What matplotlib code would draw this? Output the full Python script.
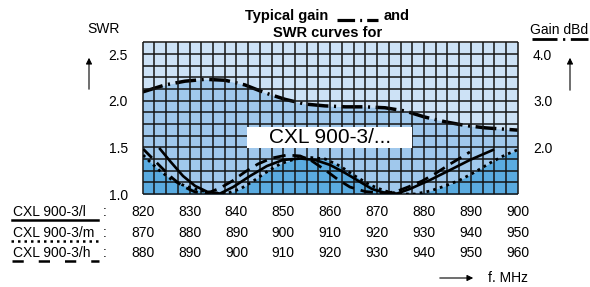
import matplotlib
matplotlib.use("Agg")
import numpy as np
import matplotlib.pyplot as plt
from matplotlib.transforms import blended_transform_factory
from matplotlib.lines import Line2D
from matplotlib.patches import FancyArrowPatch, Rectangle

plt.rcParams['font.family'] = ['Liberation Sans', 'DejaVu Sans']

# frequency axis (drawn on the CXL 900-3/l scale, MHz)
freq_ticks = [820, 830, 840, 850, 860, 870, 880, 890, 900]
labels_l = [820, 830, 840, 850, 860, 870, 880, 890, 900]
labels_m = [870, 880, 890, 900, 910, 920, 930, 940, 950]
labels_h = [880, 890, 900, 910, 920, 930, 940, 950, 960]
row_names = ["CXL 900-3/l", "CXL 900-3/m", "CXL 900-3/h"]

swr_ticks = [1.0, 1.5, 2.0, 2.5]
gain_ticks = [2.0, 3.0, 4.0]

# SWR, CXL 900-3/l (solid)
l_freq = [823.7, 826.0, 828.6, 831.2, 833.9, 836.5, 839.3, 842.9, 846.5, 849.9,
          853.6, 856.8, 860.0, 863.2, 866.4, 868.9, 871.7, 874.3, 877.0, 881.3,
          885.6, 889.8, 894.7]
l_swr = [1.483, 1.343, 1.193, 1.086, 1.021, 1.005, 1.075, 1.193, 1.300, 1.365,
         1.381, 1.365, 1.311, 1.225, 1.129, 1.054, 1.011, 1.005, 1.054, 1.150,
         1.258, 1.365, 1.472]

# SWR, CXL 900-3/m (dotted)
m_freq = [820.1, 821.6, 823.7, 826.3, 829.0, 832.2, 835.4, 838.2, 840.8, 843.3,
          846.1, 849.3, 852.5, 855.7, 858.9, 862.1, 865.3, 868.5, 871.7, 874.9,
          878.1, 881.3, 884.5, 887.7, 890.9, 894.1, 897.3, 899.9]
m_swr = [1.418, 1.343, 1.247, 1.150, 1.086, 1.038, 1.011, 1.011, 1.054, 1.129,
         1.225, 1.322, 1.376, 1.392, 1.376, 1.300, 1.193, 1.097, 1.032, 1.000,
         1.000, 1.032, 1.086, 1.150, 1.236, 1.333, 1.418, 1.472]

# SWR, CXL 900-3/h (dashed)
h_freq = [820.1, 822.0, 824.1, 826.3, 828.4, 831.2, 833.9, 836.5, 839.1, 841.8,
          844.6, 847.6, 850.8, 853.6, 856.1, 858.9, 861.5, 864.2, 867.4, 870.6,
          873.8, 876.6, 879.6, 882.6, 885.6, 888.1, 889.8]
h_swr = [1.483, 1.386, 1.279, 1.172, 1.086, 1.021, 1.011, 1.064, 1.139, 1.236,
         1.322, 1.386, 1.418, 1.408, 1.354, 1.258, 1.161, 1.075, 1.027, 1.011,
         1.021, 1.075, 1.139, 1.225, 1.322, 1.397, 1.451]

# gain, dBd (dash-dot)
gain_freq = [820.0, 824.8, 829.0, 833.3, 837.6, 841.8, 846.1, 850.4, 854.6, 858.9,
             863.2, 867.4, 871.7, 876.0, 880.2, 884.5, 888.8, 893.0, 900.0]
gain_dbd = [3.19, 3.34, 3.42, 3.46, 3.44, 3.34, 3.17, 3.03, 2.93, 2.89,
            2.87, 2.87, 2.85, 2.78, 2.65, 2.55, 2.47, 2.42, 2.37]

light = '#cde2f6'
mid = '#a0c8ec'
dark = '#5aabe0'
gridc = '#141414'

W, H = 590, 287
def fx(x):
    return x / W
def fy(y):
    return 1 - y / H

fig = plt.figure(figsize=(5.9, 2.87), dpi=100)
ax = fig.add_axes([fx(142.7), fy(194), (517.7 - 142.7) / W, (194 - 42.5) / H])
ax2 = ax.twinx()
ax.set_zorder(ax2.get_zorder() + 1)
ax.patch.set_visible(False)
ax2.patch.set_visible(True)
ax2.set_facecolor(light)

ax.set_xlim(820, 900)
ax.set_ylim(1.0, 2.625)
ax2.set_ylim(1.0, 4.25)

# gain curve and the fill under it (behind)
ax2.fill_between(gain_freq, gain_dbd, 1.0, color=mid, lw=0)
ax2.plot(gain_freq, gain_dbd, color='k', lw=2.5,
         linestyle=(0, (6, 1.6, 0.6, 1.6)))

# dark fill below the dotted SWR curve
ax.fill_between(m_freq, m_swr, 1.0, color=dark, lw=0, zorder=1)

# grid
ax.vlines(np.arange(820, 900.01, 2.5), 1.0, 2.625, color=gridc, lw=1.1,
          zorder=2, clip_on=False)
ax.hlines(np.arange(1.0, 2.626, 0.125), 820, 900, color=gridc, lw=1.1,
          zorder=2, clip_on=False)

# white label box
ax.add_patch(Rectangle((fx(247), fy(148)), (412 - 247) / W, (148 - 127) / H,
                       transform=fig.transFigure, facecolor='white',
                       edgecolor='none', zorder=3))
fig.text(fx(330), fy(137.5), "CXL 900-3/...", fontsize=15, ha='center',
         va='center', zorder=4)

# SWR curves
ax.plot(l_freq, l_swr, color='k', lw=1.9, zorder=5)
ax.plot(m_freq, m_swr, color='k', lw=2.0, linestyle=(0, (1, 1.5)), zorder=5)
ax.plot(h_freq, h_swr, color='k', lw=2.0, linestyle=(0, (4.5, 2.5)), zorder=5)

for a in (ax, ax2):
    for s in a.spines.values():
        s.set_visible(False)
ax.set_xticks([])
ax.set_yticks(swr_ticks, [f"{v:.1f}" for v in swr_ticks])
ax.tick_params(axis='y', length=0, pad=10.5, labelsize=10)
ax2.set_yticks(gain_ticks, [f"{v:.1f}" for v in gain_ticks])
ax2.tick_params(axis='y', length=0, pad=11, labelsize=10)

# frequency rows
tr = blended_transform_factory(ax.transData, fig.transFigure)
rows_y = [211.7, 233.3, 253.3]
for row_y, name, labs in zip(rows_y, row_names, [labels_l, labels_m, labels_h]):
    fig.text(fx(13), fy(row_y), name, fontsize=10, ha='left', va='center')
    fig.text(fx(105), fy(row_y), ":", fontsize=10, ha='center', va='center')
    for f, lab in zip(freq_ticks, labs):
        fig.text(f, fy(row_y), str(lab), fontsize=10, ha='center',
                 va='center', transform=tr)

fig.add_artist(Line2D([fx(12), fx(98)], [fy(220), fy(220)], color='k', lw=1.8))
fig.add_artist(Line2D([fx(11), fx(99)], [fy(241), fy(241)], color='k', lw=1.8,
                      linestyle=(0, (1, 1.6))))
fig.add_artist(Line2D([fx(12), fx(99)], [fy(261), fy(261)], color='k', lw=1.8,
                      linestyle=(0, (4.5, 6))))

# title
fig.text(fx(245), fy(16), "Typical gain", fontsize=10.5, weight='bold',
         ha='left', va='center')
fig.add_artist(Line2D([fx(337), fx(378)], [fy(20), fy(20)], color='k', lw=2.3,
                      linestyle=(0, (5.5, 1.6, 0.6, 1.6))))
fig.text(fx(384), fy(16), "and", fontsize=10.5, weight='bold',
         ha='left', va='center')
fig.text(fx(273), fy(33), "SWR curves for", fontsize=10.5, weight='bold',
         ha='left', va='center')

# axis captions and arrows
fig.text(fx(87), fy(29), "SWR", fontsize=10, ha='left', va='center')
fig.text(fx(530), fy(30), "Gain dBd", fontsize=10, ha='left', va='center')
fig.add_artist(Line2D([fx(532), fx(588)], [fy(39), fy(39)], color='k', lw=2,
                      linestyle=(0, (9, 2, 0.8, 2))))
fig.text(fx(488), fy(278), "f. MHz", fontsize=10, ha='left', va='center')

for p0, p1 in [((89, 92), (89, 55)), ((570, 93), (570, 55)),
               ((437, 278), (476, 278))]:
    fig.add_artist(FancyArrowPatch((fx(p0[0]), fy(p0[1])), (fx(p1[0]), fy(p1[1])),
                                   transform=fig.transFigure, arrowstyle='-|>',
                                   mutation_scale=9, lw=0.8, color='k'))

fig.savefig("out.png", dpi=100)
